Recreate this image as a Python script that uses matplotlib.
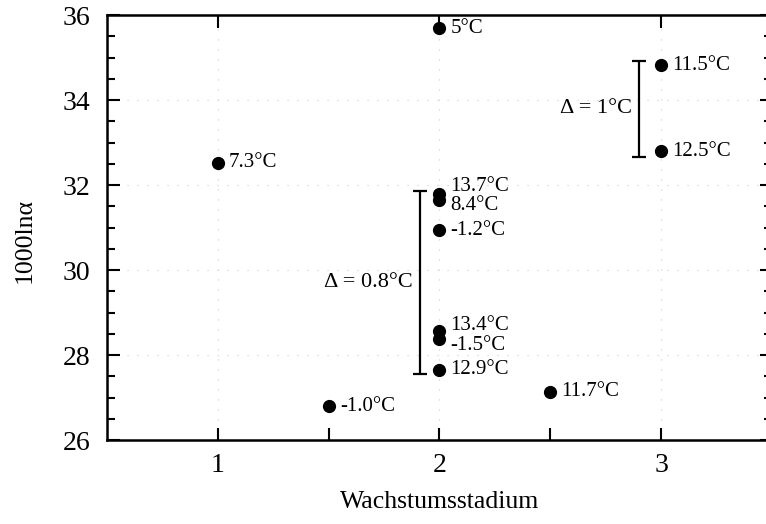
import matplotlib.pyplot as plt
from matplotlib.ticker import MultipleLocator, FixedLocator

plt.rcParams['font.family'] = ['Liberation Serif', 'DejaVu Serif']

# data
stadium = [1, 2, 3, 3, 2, 2, 2, 2, 2, 2, 1.5, 2.5]
ln_alpha = [32.52, 35.69, 34.82, 32.8, 31.8, 31.65, 30.94, 28.56, 28.38, 27.65, 26.8, 27.13]
temps = ["7.3°C", "5°C", "11.5°C", "12.5°C", "13.7°C", "8.4°C", "-1.2°C",
         "13.4°C", "-1.5°C", "12.9°C", "-1.0°C", "11.7°C"]
# vertical label shift in points (to separate overlapping pairs)
label_dy = [0, 0, 0, 0, 5, -4, 0, 4, -5, 0, 0, 0]

# brackets with delta annotation
br_x = [1.91, 2.9]
br_lo = [27.55, 32.66]
br_hi = [31.85, 34.92]
br_text = ["Δ = 0.8°C", "Δ = 1°C"]

fig = plt.figure(figsize=(7.66, 5.24), dpi=100)
ax = fig.add_axes([0.1397, 0.1603, 0.868, 0.811])

ax.plot(stadium, ln_alpha, 'o', color='black', markersize=8.5, zorder=3)
for x, y, t, dy in zip(stadium, ln_alpha, temps, label_dy):
    ax.annotate(t, (x, y), xytext=(8, dy), textcoords='offset points',
                va='center', ha='left', fontsize=15)

for x, lo, hi, t in zip(br_x, br_lo, br_hi, br_text):
    ax.errorbar([x], [(lo + hi) / 2], yerr=[[(hi - lo) / 2], [(hi - lo) / 2]],
                fmt='none', ecolor='black', elinewidth=1.6, capsize=5, capthick=1.6)
    ax.annotate(t, (x, (lo + hi) / 2), xytext=(-5, 0), textcoords='offset points',
                va='center', ha='right', fontsize=16)

ax.set_xlim(0.5, 3.5)
ax.set_ylim(26, 36)
ax.xaxis.set_major_locator(FixedLocator([1, 2, 3]))
ax.xaxis.set_minor_locator(FixedLocator([1.5, 2.5]))
ax.yaxis.set_major_locator(MultipleLocator(2))
ax.yaxis.set_minor_locator(MultipleLocator(0.5))
ax.tick_params(which='both', direction='in', width=1.5, labelsize=20,
               top=True, right=True)
ax.tick_params(which='major', length=9)
ax.tick_params(axis='y', which='major', pad=12)
ax.tick_params(axis='x', which='major', pad=9)
ax.tick_params(which='minor', length=9, top=False)
ax.tick_params(axis='y', which='minor', length=6)

for s in ax.spines.values():
    s.set_linewidth(1.8)

ax.grid(True, which='major', color='#cccccc', linestyle=(0, (1, 8)), linewidth=0.8)

ax.set_xlabel("Wachstumsstadium", fontsize=18.5, labelpad=10)
ax.set_ylabel("1000lnα", fontsize=18.5, labelpad=14)
ax.yaxis.set_label_coords(-0.107, 0.47)

fig.savefig("out.png", dpi=100)
